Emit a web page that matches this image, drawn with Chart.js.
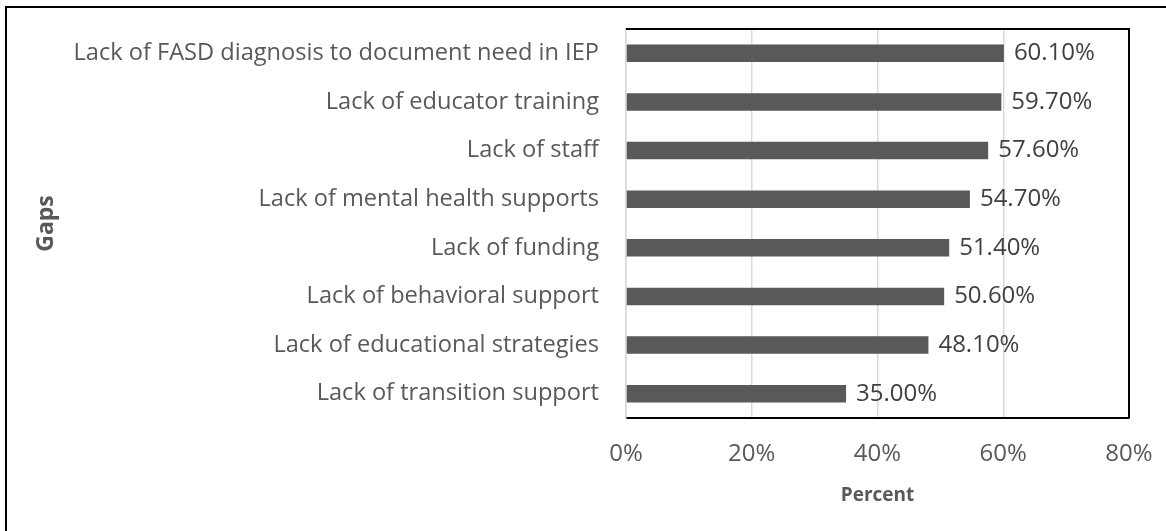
<!DOCTYPE html>
<html lang="en">
<head>
  <meta charset="UTF-8" />
  <title>Gaps in FASD supports</title>
  <script src="https://cdn.jsdelivr.net/npm/chart.js"></script>
  <style>
    html, body {
      margin: 0;
      padding: 0;
      background: #ffffff;
      overflow: hidden;
    }
    #wrap {
      position: relative;
      width: 1166px;
      height: 531px;
    }
    /* the source image is cropped: only the top and left edges of its frame show */
    #frame {
      position: absolute;
      left: 5px;
      top: 6px;
      width: 1300px;
      height: 700px;
      border-top: 2px solid #000;
      border-left: 2px solid #000;
      pointer-events: none;
    }
  </style>
</head>
<body>

<div id="wrap">
  <canvas id="gapsChart" width="1166" height="531"></canvas>
  <div id="frame"></div>
</div>

<script>
  const gaps = [
    'Lack of FASD diagnosis to document need in IEP',
    'Lack of educator training',
    'Lack of staff',
    'Lack of mental health supports',
    'Lack of funding',
    'Lack of behavioral support',
    'Lack of educational strategies',
    'Lack of transition support'
  ];
  const percents = [60.1, 59.7, 57.6, 54.7, 51.4, 50.6, 48.1, 35.0];
  const xTicks = [0, 20, 40, 60, 80];

  const textGrey = '#595959';
  const fontFamily = "'Open Sans', sans-serif";

  // value labels at the end of each bar
  const valueLabels = {
    id: 'valueLabels',
    afterDatasetsDraw(chart) {
      const ctx = chart.ctx;
      const meta = chart.getDatasetMeta(0);
      ctx.save();
      ctx.font = '24px ' + fontFamily;
      ctx.fillStyle = '#404040';
      ctx.textAlign = 'left';
      ctx.textBaseline = 'middle';
      meta.data.forEach((bar, i) => {
        ctx.fillText(percents[i].toFixed(2) + '%', bar.x + 10, bar.y);
      });
      ctx.restore();
    }
  };

  // black frame on top and right of the plot area
  const plotFrame = {
    id: 'plotFrame',
    afterDraw(chart) {
      const { left, top, right, bottom } = chart.chartArea;
      const ctx = chart.ctx;
      ctx.save();
      ctx.strokeStyle = '#000';
      ctx.lineWidth = 2;
      ctx.beginPath();
      ctx.moveTo(left, top);
      ctx.lineTo(right, top);
      ctx.lineTo(right, bottom);
      ctx.stroke();
      ctx.restore();
    }
  };

  Chart.defaults.font.family = fontFamily;
  Chart.defaults.color = textGrey;

  const ctx = document.getElementById('gapsChart').getContext('2d');
  new Chart(ctx, {
    type: 'bar',
    data: {
      labels: gaps,
      datasets: [{
        data: percents,
        backgroundColor: '#595959',
        borderWidth: 0,
        barPercentage: 0.36,
        categoryPercentage: 1
      }]
    },
    options: {
      indexAxis: 'y',
      responsive: false,
      animation: false,
      layout: { padding: { top: 29, right: 37, left: 0, bottom: 0 } },
      plugins: {
        legend: { display: false },
        tooltip: { enabled: false }
      },
      scales: {
        x: {
          min: xTicks[0],
          max: xTicks[xTicks.length - 1],
          afterBuildTicks: scale => { scale.ticks = xTicks.map(v => ({ value: v })); },
          afterFit: scale => {
            scale.height = 113;
            scale.paddingLeft = 0;
            scale.paddingRight = 0;
          },
          grid: { color: '#d9d9d9', lineWidth: 1.5, drawTicks: false },
          border: { display: true, color: '#000', width: 2 },
          ticks: {
            padding: 22,
            font: { size: 24 },
            color: textGrey,
            callback: v => v + '%'
          },
          title: {
            display: true,
            text: 'Percent',
            color: textGrey,
            font: { size: 19, weight: 'bold' },
            padding: { top: 0, bottom: 24 }
          }
        },
        y: {
          afterFit: scale => {
            scale.width = 626;
            scale.paddingTop = 0;
            scale.paddingBottom = 0;
          },
          grid: { display: false, drawTicks: false },
          border: { display: true, color: '#d9d9d9', width: 1.5 },
          ticks: {
            padding: 27,
            font: { size: 23.6 },
            color: textGrey,
            autoSkip: false
          },
          title: {
            display: true,
            text: 'Gaps',
            color: textGrey,
            font: { size: 23, weight: 'bold' },
            padding: { top: 33, bottom: 0 }
          }
        }
      }
    },
    plugins: [valueLabels, plotFrame]
  });
</script>

</body>
</html>
